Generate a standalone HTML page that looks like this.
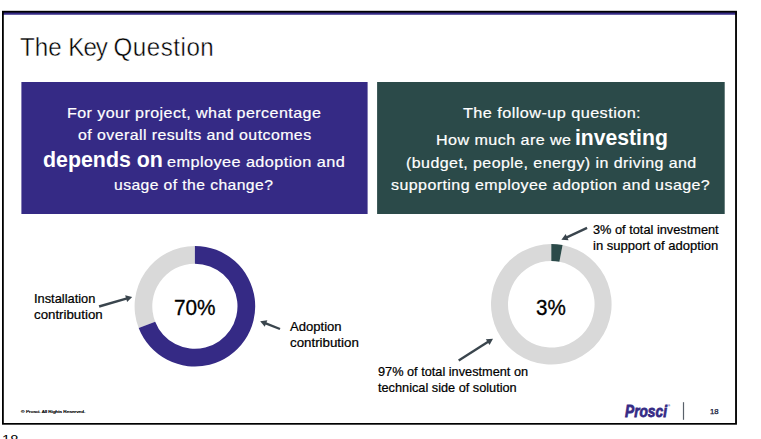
<!DOCTYPE html>
<html lang="en">
<head>
<meta charset="utf-8">
<title>The Key Question</title>
<style>
html,body{margin:0;padding:0;background:#fff;}
body{width:761px;height:439px;position:relative;overflow:hidden;font-family:"Liberation Sans",sans-serif;}
#gfx{position:absolute;left:0;top:0;width:761px;height:439px;display:block;}
.t{position:absolute;white-space:nowrap;line-height:1;transform-origin:0 0;margin:0;padding:0;}
</style>
</head>
<body>
<svg id="gfx" width="761" height="439" viewBox="0 0 761 439">
<rect x="2" y="11" width="734.95" height="3.75" fill="#352a85"/>
<rect x="2" y="10.8" width="734.95" height="1.75" fill="#000"/>
<rect x="2" y="12" width="1.8" height="411" fill="#000"/>
<rect x="735.1" y="12" width="1.85" height="411" fill="#000"/>
<rect x="2" y="423" width="734.95" height="1.7" fill="#000"/>
<rect x="21.4" y="82" width="346.2" height="132" fill="#352a85"/>
<rect x="377.1" y="82" width="347.6" height="132" fill="#2b4a49"/>
<path d="M138.68 328.06 A60.3 60.3 0 0 1 194.90 245.95 L194.90 263.65 A42.6 42.6 0 0 0 155.18 321.66 Z" fill="#d9d9d9"/>
<path d="M194.90 245.95 A60.3 60.3 0 1 1 138.68 328.06 L155.18 321.66 A42.6 42.6 0 1 0 194.90 263.65 Z" fill="#352a85"/>
<path d="M562.60 245.02 A60.3 60.3 0 1 1 551.30 243.95 L551.30 260.95 A43.3 43.3 0 1 0 559.41 261.72 Z" fill="#d9d9d9"/>
<path d="M551.30 243.95 A60.3 60.3 0 0 1 562.60 245.02 L559.41 261.72 A43.3 43.3 0 0 0 551.30 260.95 Z" fill="#2b4a49"/>
<line x1="99.10" y1="306.50" x2="127.11" y2="298.46" stroke="#3a454d" stroke-width="2.35"/><path d="M132.20 297.00 L127.11 302.10 L125.18 295.37 Z" fill="#3a454d"/>
<line x1="280.00" y1="329.00" x2="265.13" y2="323.14" stroke="#3a454d" stroke-width="2.35"/><path d="M260.20 321.20 L267.34 320.25 L264.78 326.77 Z" fill="#3a454d"/>
<line x1="587.10" y1="227.90" x2="566.21" y2="237.57" stroke="#3a454d" stroke-width="2.35"/><path d="M561.40 239.80 L565.65 233.98 L568.59 240.33 Z" fill="#3a454d"/>
<line x1="458.70" y1="360.50" x2="488.53" y2="341.54" stroke="#3a454d" stroke-width="2.35"/><path d="M493.00 338.70 L489.56 345.03 L485.81 339.13 Z" fill="#3a454d"/>
<rect x="682.9" y="402.2" width="1.2" height="17.6" fill="#59616a"/>
</svg>
<div class="t" id="title" style="left:19.86px;top:34.00px;font-size:26.3px;transform:scale(0.9188,1.0000);color:#000;-webkit-text-stroke:0.45px #fff;">The <span style="letter-spacing:-1.15px">Key</span> <span style="letter-spacing:0.55px">Question</span></div>
<div class="t" id="l1" style="left:66.86px;top:105.00px;font-size:15.0px;transform:scale(1.0706,1.0000);color:#fff;letter-spacing:0.4px;-webkit-text-stroke:0.2px #fff;">For your project, what percentage</div>
<div class="t" id="l2" style="left:77.76px;top:127.00px;font-size:15.0px;transform:scale(1.0614,1.0000);color:#fff;letter-spacing:0.4px;-webkit-text-stroke:0.2px #fff;">of overall results and outcomes</div>
<div class="t" id="l3a" style="left:43.13px;top:149.00px;font-size:22.0px;transform:scale(0.9708,1.0000);color:#fff;font-weight:bold;">depends on</div>
<div class="t" id="l3b" style="left:167.23px;top:154.00px;font-size:15.0px;transform:scale(1.0837,1.0000);color:#fff;letter-spacing:0.4px;-webkit-text-stroke:0.2px #fff;">employee adoption and</div>
<div class="t" id="l4" style="left:113.85px;top:177.00px;font-size:15.0px;transform:scale(1.0461,1.0000);color:#fff;letter-spacing:0.4px;-webkit-text-stroke:0.2px #fff;">usage of the change?</div>
<div class="t" id="r1" style="left:462.78px;top:105.00px;font-size:15.0px;transform:scale(1.0839,1.0000);color:#fff;letter-spacing:0.4px;-webkit-text-stroke:0.2px #fff;">The follow-up question:</div>
<div class="t" id="r2a" style="left:435.77px;top:132.00px;font-size:15.0px;transform:scale(1.0746,1.0000);color:#fff;letter-spacing:0.4px;-webkit-text-stroke:0.2px #fff;">How much are we</div>
<div class="t" id="r2b" style="left:574.70px;top:127.00px;font-size:22.0px;transform:scale(0.9609,1.0000);color:#fff;font-weight:bold;">investing</div>
<div class="t" id="r3" style="left:405.98px;top:155.00px;font-size:15.0px;transform:scale(1.0668,1.0000);color:#fff;letter-spacing:0.4px;-webkit-text-stroke:0.2px #fff;">(budget, people, energy) in driving and</div>
<div class="t" id="r4" style="left:391.34px;top:177.00px;font-size:15.0px;transform:scale(1.0670,1.0000);color:#fff;letter-spacing:0.4px;-webkit-text-stroke:0.2px #fff;">supporting employee adoption and usage?</div>
<div class="t" id="n1" style="left:174.20px;top:297.00px;font-size:21.8px;transform:scale(0.9528,1.0000);color:#000;-webkit-text-stroke:0.3px #000;">70%</div>
<div class="t" id="n2" style="left:535.61px;top:297.00px;font-size:21.8px;transform:scale(0.9467,1.0000);color:#000;-webkit-text-stroke:0.3px #000;">3%</div>
<div class="t" id="a1" style="left:33.53px;top:293.00px;font-size:12.2px;transform:scale(1.0521,1.0000);color:#000;-webkit-text-stroke:0.22px #000;">Installation</div>
<div class="t" id="a2" style="left:33.60px;top:309.00px;font-size:12.2px;transform:scale(1.0900,1.0000);color:#000;-webkit-text-stroke:0.22px #000;">contribution</div>
<div class="t" id="b1" style="left:289.67px;top:321.00px;font-size:12.2px;transform:scale(1.0725,1.0000);color:#000;-webkit-text-stroke:0.22px #000;">Adoption</div>
<div class="t" id="b2" style="left:289.73px;top:337.00px;font-size:12.2px;transform:scale(1.0926,1.0000);color:#000;-webkit-text-stroke:0.22px #000;">contribution</div>
<div class="t" id="c1" style="left:593.24px;top:224.00px;font-size:12.2px;transform:scale(1.0480,1.0000);color:#000;-webkit-text-stroke:0.22px #000;">3% of total investment</div>
<div class="t" id="c2" style="left:593.37px;top:240.00px;font-size:12.2px;transform:scale(1.0687,1.0000);color:#000;-webkit-text-stroke:0.22px #000;">in support of adoption</div>
<div class="t" id="d1" style="left:378.10px;top:366.00px;font-size:12.2px;transform:scale(1.0448,1.0000);color:#000;-webkit-text-stroke:0.22px #000;">97% of total investment on</div>
<div class="t" id="d2" style="left:378.10px;top:382.00px;font-size:12.2px;transform:scale(1.0445,1.0000);color:#000;-webkit-text-stroke:0.22px #000;">technical side of solution</div>
<div class="t" id="copy" style="left:20.70px;top:410.00px;font-size:9.0px;transform:scale(0.5350,0.4000);color:#000;-webkit-text-stroke:0.5px #000;">© Prosci. All Rights Reserved.</div>
<div class="t" id="logo" style="left:625.11px;top:403.00px;font-size:17.4px;transform:scale(0.7889,1.0000);color:#352a85;font-weight:bold;font-style:italic;-webkit-text-stroke:0.8px #352a85;">Prosci</div>
<div class="t" id="reg" style="left:668.00px;top:404.20px;font-size:7.0px;transform:scale(0.4200,0.4200);color:#352a85;font-weight:bold;">®</div>
<div class="t" id="pg" style="left:709.90px;top:408.00px;font-size:7.4px;transform:scale(1.0500,1.0000);color:#151a3a;-webkit-text-stroke:0.25px #151a3a;">18</div>
<div class="t" id="pg2" style="left:2.43px;top:433.00px;font-size:13.4px;transform:scale(1.0916,1.0000);color:#000;">18</div>
</body>
</html>
